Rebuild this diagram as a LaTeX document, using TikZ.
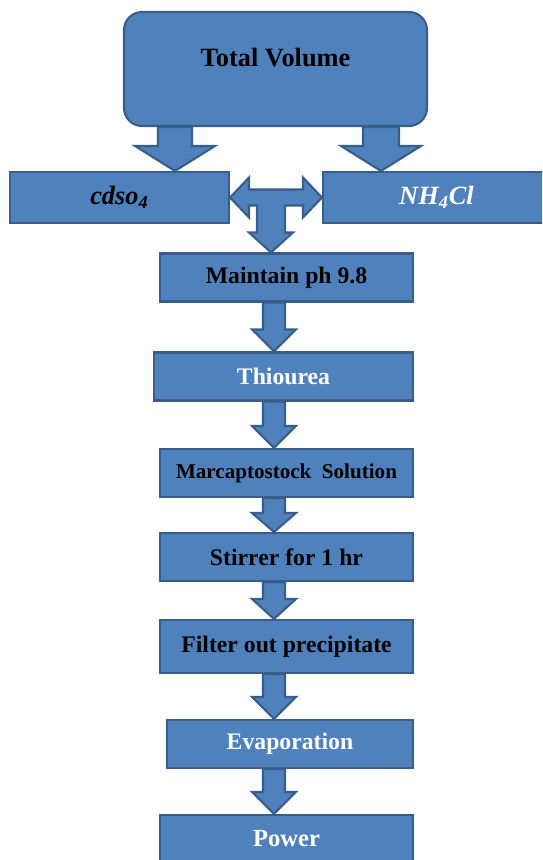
\documentclass[tikz,border=0pt]{standalone}
\usepackage{fontspec}
\setmainfont{Liberation Serif}
\usetikzlibrary{calc}

\definecolor{boxblue}{RGB}{79,129,189}
\definecolor{edgeblue}{RGB}{56,93,138}

\tikzset{
  stepbox/.style = {draw = edgeblue, fill = boxblue, line width = 1.2pt, minimum width = 5.06cm, minimum height = 0.96cm, inner sep = 0pt, font = \bfseries\fontsize{13.5}{16}\selectfont},
  chembox/.style = {stepbox, minimum height = 1.02cm, font = \bfseries\itshape\fontsize{15}{18}\selectfont},
  blockarrow/.style = {draw = edgeblue, fill = boxblue, line width = 1.2pt, line join = miter}
}

% block arrow: from node, to node, axis coordinate, half shaft, half head, head length
\newcommand{\blockdown}[6]{%
  \filldraw[blockarrow] ($(#3 |- #1.south) + (-#4, 0)$) -- ($(#3 |- #2.north) + (-#4, -#6)$) -- ($(#3 |- #2.north) + (-#5, -#6)$) -- (#3 |- #2.north) -- ($(#3 |- #2.north) + (#5, -#6)$) -- ($(#3 |- #2.north) + (#4, -#6)$) -- ($(#3 |- #1.south) + (#4, 0)$) -- cycle;
}

\begin{document}
\begin{tikzpicture} [x = 0.02cm, y = -0.02cm]
\useasboundingbox (0, 0) rectangle (542, 860);
\clip (0, 0) rectangle (542, 860);
\coordinate (leftaxis) at (175, 0);
\coordinate (rightaxis) at (381, 0);
\coordinate (taxis) at (271, 0);
\coordinate (axis) at (274, 0);

\node[stepbox, rounded corners = 0.36cm, minimum width = 6.06cm, minimum height = 2.28cm, text height = 10pt, text depth = 12.4pt, font = \bfseries\fontsize{15}{18}\selectfont] (total) at (275.5, 69) {Total Volume};
\node[chembox, minimum width = 4.38cm] (cdso) at (119.5, 197.5) {cdso\textsubscript{4}};
\node[chembox, minimum width = 4.54cm, text = white] (nh4) at (436.5, 197.5) {NH\textsubscript{4}Cl};
\node[stepbox] (maintain) at (286.5, 277.5) {Maintain ph 9.8};
\node[stepbox, minimum width = 5.18cm, text = white] (thiourea) at (283.5, 376.5) {Thiourea};
\node[stepbox, font = \bfseries\fontsize{12}{14}\selectfont] (marcapto) at (286.5, 473) {Marcaptostock~ Solution};
\node[stepbox] (stirrer) at (286.5, 557) {Stirrer for 1 hr};
\node[stepbox, minimum height = 1.06cm] (filter) at (286.5, 646.5) {Filter out precipitate};
\node[stepbox, minimum width = 4.92cm, text = white] (evap) at (290, 744) {Evaporation};
\node[stepbox, text = white, font = \bfseries\fontsize{14}{17}\selectfont] (power) at (286.5, 839) {Power};

\blockdown{total}{cdso}{leftaxis}{17}{40}{25}
\blockdown{total}{nh4}{rightaxis}{18}{40}{25}

\filldraw[blockarrow] (cdso.east) -- ($(cdso.east) + (19, -20)$) -- ($(cdso.east) + (19, -8)$) -- ($(nh4.west) + (-19, -8)$) -- ($(nh4.west) + (-19, -20)$) -- (nh4.west) -- ($(nh4.west) + (-19, 20)$) -- ($(nh4.west) + (-19, 8)$) -- ($(taxis |- cdso.east) + (14, 8)$) -- ($(taxis |- maintain.north) + (14, -20)$) -- ($(taxis |- maintain.north) + (22, -20)$) -- (taxis |- maintain.north) -- ($(taxis |- maintain.north) + (-22, -20)$) -- ($(taxis |- maintain.north) + (-14, -20)$) -- ($(taxis |- cdso.east) + (-14, 8)$) -- ($(cdso.east) + (19, 8)$) -- ($(cdso.east) + (19, 20)$) -- cycle;

\blockdown{maintain}{thiourea}{axis}{11}{22}{22}
\blockdown{thiourea}{marcapto}{axis}{11}{22}{22}
\blockdown{marcapto}{stirrer}{axis}{11}{22}{19}
\blockdown{stirrer}{filter}{axis}{11}{22}{20}
\blockdown{filter}{evap}{axis}{11}{22}{22}
\blockdown{evap}{power}{axis}{11}{22}{22}
\end{tikzpicture}
\end{document}
